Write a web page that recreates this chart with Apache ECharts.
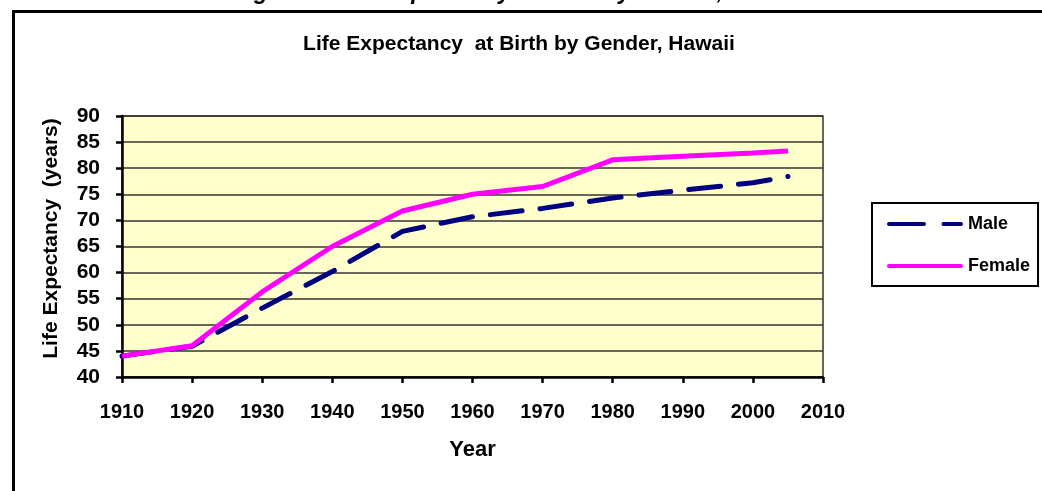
<!DOCTYPE html>
<html>
<head>
<meta charset="utf-8">
<script src="https://cdn.jsdelivr.net/npm/echarts@6/dist/echarts.min.js"></script>
<style>html,body{margin:0;padding:0;background:#fff}#c{width:1042px;height:491px}</style>
</head>
<body>
<div id="c"></div>
<script>
const years = [1910, 1920, 1930, 1940, 1950, 1960, 1970, 1980, 1990, 2000, 2005];
const male = [44.0, 45.9, 53.2, 60.2, 67.9, 70.7, 72.3, 74.3, 75.8, 77.2, 78.4];
const female = [44.0, 46.0, 56.3, 65.0, 71.8, 75.0, 76.5, 81.6, 82.3, 82.9, 83.3];
const seriesNames = ['Male', 'Female'];
const chartTitle = 'Life Expectancy  at Birth by Gender, Hawaii';
const figureCaption = 'Figure 1. Life Expectancy at Birth by Gender, Hawaii';
const xName = 'Year';
const yName = 'Life Expectancy  (years)';

const font = 'Liberation Sans, Arial, sans-serif';
const dashIcon = 'path://M2,0H36A2,2 0 0 1 36,4H2A2,2 0 0 1 2,0Z M55,0H72A2,2 0 0 1 72,4H55A2,2 0 0 1 55,0Z M0,0H0.01V4H0Z M73.99,0H74V4H73.99Z';
const solidIcon = 'path://M2,0H72A2,2 0 0 1 72,4H2A2,2 0 0 1 2,0Z M0,0H0.01V4H0Z M73.99,0H74V4H73.99Z';
const chart = echarts.init(document.getElementById('c'), null, {renderer: 'canvas'});
chart.setOption({
  backgroundColor: '#ffffff',
  animation: false,
  graphic: [
    {type: 'rect', shape: {x: 13.5, y: 11.5, width: 1200, height: 700}, style: {fill: 'none', stroke: '#000', lineWidth: 3}, silent: true},
    {type: 'text', x: 518, y: 4, style: {text: figureCaption, fill: '#000', font: 'italic bold 23px ' + font, textAlign: 'center', textVerticalAlign: 'bottom'}}
  ],
  title: {
    text: chartTitle,
    left: 514, top: 29, textAlign: 'center',
    textStyle: {fontFamily: font, fontWeight: 'bold', fontSize: 21, color: '#000'}
  },
  legend: {
    orient: 'vertical',
    left: 872, top: 203,
    padding: [12, 8, 11, 15],
    borderColor: '#000', borderWidth: 2,
    itemWidth: 76, itemHeight: 5, itemGap: 24,
    textStyle: {fontFamily: font, fontWeight: 'bold', fontSize: 18, color: '#000'},
    data: [
      {name: seriesNames[0], icon: dashIcon},
      {name: seriesNames[1], icon: solidIcon}
    ]
  },
  grid: {
    left: 122, top: 116, right: 219, bottom: 114,
    show: true, backgroundColor: '#FFFFCC', borderColor: '#333', borderWidth: 1.5
  },
  xAxis: {
    type: 'value', min: 1910, max: 2010, interval: 10,
    name: xName, nameLocation: 'middle', nameGap: 62,
    nameTextStyle: {fontFamily: font, fontWeight: 'bold', fontSize: 22, color: '#000'},
    axisLine: {show: true, lineStyle: {color: '#000', width: 2.5}},
    axisTick: {show: true, length: 6, lineStyle: {color: '#000', width: 2.5}},
    axisLabel: {margin: 25, fontFamily: font, fontWeight: 'bold', fontSize: 20, color: '#000', formatter: v => String(v)},
    splitLine: {show: false}
  },
  yAxis: {
    type: 'value', min: 40, max: 90, interval: 5,
    name: yName, nameLocation: 'middle', nameGap: 60, nameRotate: 90,
    nameTextStyle: {fontFamily: font, fontWeight: 'bold', fontSize: 21, color: '#000', padding: [0, 0, 0, 16]},
    axisLine: {show: true, lineStyle: {color: '#000', width: 2.5}},
    axisTick: {show: true, length: 6, lineStyle: {color: '#000', width: 2.5}},
    axisLabel: {margin: 22, fontFamily: font, fontWeight: 'bold', fontSize: 21, color: '#000'},
    splitLine: {show: true, lineStyle: {color: '#333', width: 1.5}}
  },
  series: [
    {
      name: seriesNames[0], type: 'line', symbol: 'none',
      data: years.map((y, i) => [y, male[i]]),
      lineStyle: {color: '#000080', width: 5, type: [32, 18], cap: 'round'},
      itemStyle: {color: '#000080'}, z: 2
    },
    {
      name: seriesNames[1], type: 'line', symbol: 'none',
      data: years.map((y, i) => [y, female[i]]),
      lineStyle: {color: '#FF00FF', width: 5},
      itemStyle: {color: '#FF00FF'}, z: 3
    }
  ]
});
</script>
</body>
</html>
